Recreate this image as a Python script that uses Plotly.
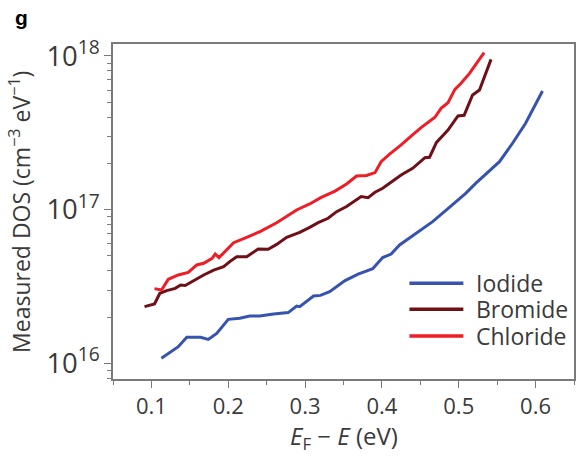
import plotly.graph_objects as go

# ---- data ----
iodide_x = [0.113, 0.124, 0.135, 0.146, 0.164, 0.174, 0.185, 0.200, 0.215, 0.228, 0.241, 0.259, 0.278,
            0.289, 0.293, 0.311, 0.320, 0.332, 0.352, 0.369, 0.388, 0.401, 0.412, 0.423, 0.440, 0.453,
            0.466, 0.484, 0.496, 0.509, 0.522, 0.538, 0.553, 0.570, 0.587, 0.609]
iodide_logy = [16.033, 16.070, 16.108, 16.169, 16.169, 16.156, 16.195, 16.286, 16.293, 16.308, 16.308,
               16.321, 16.330, 16.373, 16.369, 16.438, 16.442, 16.466, 16.538, 16.581, 16.616, 16.688,
               16.711, 16.770, 16.829, 16.879, 16.922, 16.998, 17.052, 17.106, 17.171, 17.241, 17.312,
               17.432, 17.562, 17.772]

bromide_x = [0.091, 0.104, 0.111, 0.120, 0.131, 0.138, 0.144, 0.155, 0.168, 0.181, 0.194, 0.202, 0.211,
             0.224, 0.239, 0.252, 0.263, 0.276, 0.293, 0.306, 0.317, 0.330, 0.341, 0.354, 0.365, 0.373,
             0.382, 0.391, 0.401, 0.412, 0.425, 0.440, 0.451, 0.456, 0.462, 0.471, 0.486, 0.499, 0.507,
             0.518, 0.527, 0.542]
bromide_logy = [16.369, 16.386, 16.456, 16.473, 16.488, 16.510, 16.506, 16.538, 16.575, 16.607, 16.629,
                16.662, 16.694, 16.694, 16.744, 16.742, 16.774, 16.820, 16.852, 16.885, 16.915, 16.944,
                16.987, 17.020, 17.056, 17.085, 17.078, 17.113, 17.139, 17.178, 17.226, 17.269, 17.319,
                17.338, 17.341, 17.438, 17.518, 17.610, 17.614, 17.746, 17.779, 17.978]

chloride_x = [0.104, 0.113, 0.116, 0.122, 0.135, 0.144, 0.148, 0.159, 0.168, 0.179, 0.183, 0.188, 0.196,
              0.207, 0.224, 0.242, 0.263, 0.276, 0.289, 0.306, 0.321, 0.339, 0.354, 0.367, 0.380, 0.391,
              0.399, 0.410, 0.425, 0.438, 0.451, 0.469, 0.477, 0.486, 0.495, 0.503, 0.514, 0.533]
chloride_logy = [16.486, 16.477, 16.499, 16.547, 16.575, 16.586, 16.592, 16.640, 16.651, 16.683, 16.711,
                 16.688, 16.731, 16.785, 16.820, 16.859, 16.915, 16.959, 16.998, 17.037, 17.080, 17.121,
                 17.167, 17.219, 17.223, 17.241, 17.312, 17.362, 17.421, 17.479, 17.534, 17.601, 17.659,
                 17.696, 17.783, 17.822, 17.887, 18.022]

series_names = ["Iodide", "Bromide", "Chloride"]
series_colors = ["#3753b0", "#701016", "#ee1d26"]

x_ticks = [0.1, 0.2, 0.3, 0.4, 0.5, 0.6]

# ---- figure ----
FONT = "Open Sans"
TXT = "#3a3a3a"
AX = "#7a7a7a"

fig = go.Figure()
for name, xs, ly, col in zip(series_names, [iodide_x, bromide_x, chloride_x],
                             [iodide_logy, bromide_logy, chloride_logy], series_colors):
    fig.add_trace(go.Scatter(x=xs, y=[10 ** v for v in ly], mode="lines", name=name,
                             line=dict(color=col, width=3), showlegend=False))

fig.update_layout(
    width=577, height=458,
    margin=dict(l=113, r=1, t=44, b=79),
    paper_bgcolor="white", plot_bgcolor="white",
    font=dict(family=FONT, color=TXT, size=22),
    showlegend=False,
    xaxis=dict(range=[0.05, 0.65], tickvals=x_ticks, ticktext=[str(v) for v in x_ticks],
               ticks="outside", ticklen=7, tickwidth=1.3, tickcolor=AX,
               showline=True, linecolor=AX, linewidth=1.5, mirror=True,
               showgrid=False, zeroline=False,
               tickfont=dict(size=22, color=TXT),
               minor=dict(dtick=0.05, tick0=0.05, ticks="outside", ticklen=4, tickcolor=AX,
                          tickwidth=1.2, showgrid=False)),
    yaxis=dict(type="log", range=[15.898, 18.078], dtick=1, exponentformat="power",
               ticks="outside", ticklen=7, tickwidth=1.3, tickcolor=AX,
               showline=True, linecolor=AX, linewidth=1.5, mirror=True,
               showgrid=False, zeroline=False,
               tickfont=dict(size=22, color=TXT),
               minor=dict(dtick="D1", ticks="outside", ticklen=4, tickcolor=AX,
                          tickwidth=1.2, showgrid=False)),
)

# legend drawn as line samples + labels (tight row spacing like the reference)
legend_rows_y = [0.286, 0.208, 0.128]
for name, col, ly in zip(series_names, series_colors, legend_rows_y):
    fig.add_shape(type="line", xref="paper", yref="paper", x0=0.643, x1=0.760, y0=ly, y1=ly,
                  line=dict(color=col, width=3.5))
    fig.add_annotation(text=name, xref="paper", yref="paper", x=0.782, y=ly,
                       xanchor="left", yanchor="middle", showarrow=False, height=26,
                       font=dict(size=23, color=TXT))

fig.add_annotation(text="<i>E</i><sub>F</sub> − <i>E</i> (eV)", xref="paper", yref="paper",
                   x=0.5, y=-0.172, xanchor="center", yanchor="middle", showarrow=False,
                   font=dict(size=24, color=TXT))
fig.add_annotation(text="Measured DOS (cm<sup>−3</sup> eV<sup>−1</sup>)", xref="paper", yref="paper",
                   x=-0.203, y=0.5, xanchor="center", yanchor="middle", textangle=-90,
                   showarrow=False, font=dict(size=23, color=TXT))
fig.add_annotation(text="<b>g</b>", xref="paper", yref="paper",
                   x=-0.218, y=1.08, xanchor="left", yanchor="middle", showarrow=False,
                   font=dict(size=21, color="black", family="Liberation Sans"))

fig.write_html("out.html")
